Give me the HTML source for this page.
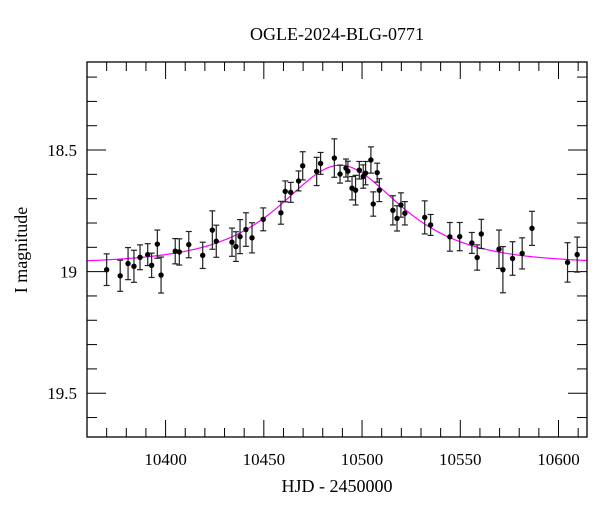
<!DOCTYPE html>
<html><head><meta charset="utf-8"><style>
html,body{margin:0;padding:0;background:#fff;}
svg{display:block;font-family:"Liberation Serif",serif;}
</style></head><body>
<svg id="chart" width="600" height="512" viewBox="0 0 600 512" xmlns="http://www.w3.org/2000/svg">
<text x="337" y="40" font-size="18" text-anchor="middle">OGLE-2024-BLG-0771</text>
<text x="337" y="492" font-size="18" text-anchor="middle">HJD - 2450000</text>
<text transform="translate(27,250) rotate(-90)" font-size="18" text-anchor="middle">I magnitude</text>
<g id="ticks"></g>
<g id="model"></g>
<g id="pts"></g>
<rect x="87" y="62" width="500" height="375" fill="none" stroke="#000" stroke-width="1.3"/>
</svg>
<script>
const hjd=[10370.0,10376.9,10380.9,10383.9,10387.0,10390.9,10392.9,10395.8,10397.7,10404.9,10407.0,10411.8,10418.9,10423.8,10425.8,10433.8,10435.8,10437.9,10440.9,10444.0,10449.7,10458.7,10460.9,10463.7,10467.7,10469.8,10476.9,10478.9,10485.9,10488.8,10491.8,10492.8,10494.9,10496.7,10498.6,10500.6,10501.8,10504.5,10505.7,10507.7,10508.8,10515.7,10517.8,10519.8,10521.8,10531.9,10534.9,10544.7,10549.7,10555.9,10558.6,10560.7,10569.7,10571.7,10576.6,10581.5,10586.5,10604.6,10609.5];
const mag=[18.992,19.017,18.967,18.978,18.941,18.930,18.974,18.887,19.014,18.916,18.919,18.889,18.933,18.829,18.875,18.879,18.897,18.856,18.827,18.861,18.785,18.758,18.670,18.674,18.627,18.565,18.588,18.555,18.533,18.599,18.574,18.587,18.657,18.665,18.583,18.609,18.595,18.541,18.722,18.593,18.665,18.748,18.781,18.726,18.760,18.777,18.808,18.857,18.856,18.882,18.942,18.845,18.908,18.992,18.946,18.925,18.822,18.962,18.930];
const err=[0.065,0.064,0.066,0.066,0.051,0.045,0.050,0.058,0.074,0.052,0.054,0.054,0.054,0.079,0.066,0.058,0.061,0.070,0.069,0.062,0.047,0.047,0.043,0.041,0.041,0.058,0.058,0.045,0.079,0.037,0.037,0.041,0.048,0.061,0.036,0.048,0.048,0.054,0.050,0.039,0.047,0.060,0.052,0.050,0.048,0.068,0.043,0.059,0.058,0.043,0.052,0.060,0.079,0.095,0.069,0.064,0.070,0.081,0.072];
const xTickLabels=[10400,10450,10500,10550,10600];
const yTickLabels=[18.5,19,19.5];
const modelParams=[10488.8,40,0.87,18.968]; // t0, tE, u0, baseline

const NS="http://www.w3.org/2000/svg";
const X0=87,X1=587,Y0=62,Y1=437,xmin=10360,xmax=10614.5,ymin=18.138,ymax=19.68;
function sx(d){return X0+(d-xmin)/(xmax-xmin)*(X1-X0);}
function sy(m){return Y0+(m-ymin)/(ymax-ymin)*(Y1-Y0);}
function mk(tag,attrs,parent){const e=document.createElementNS(NS,tag);for(const k in attrs)e.setAttribute(k,attrs[k]);parent.appendChild(e);return e;}
const tk=document.getElementById('ticks');
for(let d=10360;d<=xmax;d+=10){
  const x=sx(d),maj=d%50===0,L=maj?17:9;
  let l=mk('line',{x1:x,x2:x,y1:Y1,y2:Y1-L,stroke:'#000','stroke-width':1},tk);
  
  
  l=mk('line',{x1:x,x2:x,y1:Y0,y2:Y0+L,stroke:'#000','stroke-width':1},tk);
  
  
}
xTickLabels.forEach(v=>{
  const t=mk('text',{x:sx(v),y:465,'font-size':17,'text-anchor':'middle'},tk);
  
  
  t.textContent=v;
});
for(let i=2;i<=16;i++){
  const m=18+i*0.1,y=sy(m),maj=(i%5===0),L=maj?19:10;
  if(y<Y0||y>Y1)continue;
  let l=mk('line',{x1:X0,x2:X0+L,y1:y,y2:y,stroke:'#000','stroke-width':1},tk);
  
  
  l=mk('line',{x1:X1,x2:X1-L,y1:y,y2:y,stroke:'#000','stroke-width':1},tk);
  
  
}
yTickLabels.forEach(v=>{
  const t=mk('text',{x:77,y:sy(v)+6,'font-size':17,'text-anchor':'end'},tk);
  
  
  t.textContent=v;
});
const [t0,tE,u0,base]=modelParams;
let p='';
for(let d=xmin;d<=xmax;d+=0.5){
  const tau=(d-t0)/tE,u=Math.sqrt(u0*u0+tau*tau),A=(u*u+2)/(u*Math.sqrt(u*u+4));
  const m=base-2.5*Math.log10(A);
  p+=(p?'L':'M')+sx(d).toFixed(2)+','+sy(m).toFixed(2);
}
const mc=mk('path',{d:p,fill:'none',stroke:'#ff00ff','stroke-width':1.2},document.getElementById('model'));


const pg=document.getElementById('pts');
hjd.forEach((d,i)=>{
  const x=sx(d),y=sy(mag[i]),yt=sy(mag[i]-err[i]),yb=sy(mag[i]+err[i]);
  const g=mk('g',{stroke:'#222','stroke-width':1.2},pg);
  
  
  mk('line',{x1:x,x2:x,y1:yt,y2:yb},g);
  mk('line',{x1:x-3,x2:x+3,y1:yt,y2:yt},g);
  mk('line',{x1:x-3,x2:x+3,y1:yb,y2:yb},g);
  mk('circle',{cx:x,cy:y,r:2.7,fill:'#000',stroke:'none'},g);
});
</script>
</body></html>
